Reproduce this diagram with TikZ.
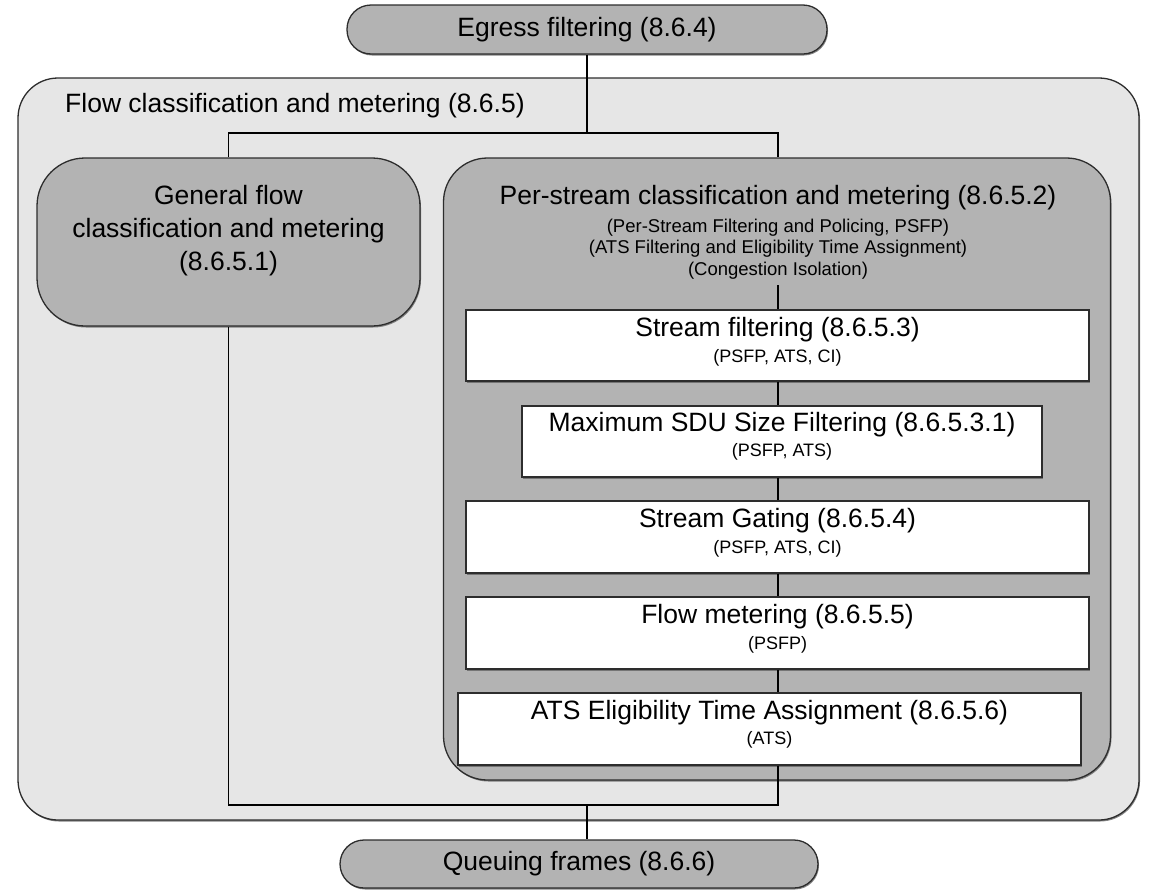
\documentclass[tikz,border=0pt]{standalone}
\usepackage{fontspec}
\setmainfont{Liberation Sans}
\usetikzlibrary{shadows}
\definecolor{outerfill}{RGB}{230,230,230}
\definecolor{boxgray}{RGB}{179,179,179}
\definecolor{edgecol}{RGB}{45,45,45}
\begin{document}
\begin{tikzpicture}[x=1pt,y=-1pt,
  boxshadow/.style={drop shadow={shadow xshift=1pt,shadow yshift=-1.5pt,fill=black!60,opacity=0.8}},
  boxframe/.style={draw=edgecol,line width=1.3pt,rectangle,inner sep=0pt,boxshadow},
  pill/.style={boxframe,fill=boxgray,rounded corners=24pt,minimum height=49pt},
  whitebox/.style={boxframe,fill=white,minimum height=72pt},
  lbig/.style={font=\fontsize{26.5}{33}\selectfont,inner sep=0pt,align=center,text=black},
  lsmall/.style={font=\fontsize{18.5}{21.5}\selectfont,inner sep=0pt,align=center,text=black},
  lsub/.style={font=\fontsize{18}{21}\selectfont,inner sep=0pt,align=center,text=black},
  link/.style={draw=black,line width=1.2pt}]
\useasboundingbox (0,0) rectangle (1158,892);

% outer container
\node[boxframe,fill=outerfill,rounded corners=40pt,minimum width=1121pt,minimum height=742pt] (outer) at (578.5,449) {};
\node[lbig,anchor=west] (outertitle) at (65,105.5) {Flow classification and metering (8.6.5)};

% top and bottom pills
\node[pill,lbig,minimum width=480pt] (egress) at (587,29.5) {Egress filtering (8.6.4)};
\node[pill,lbig,minimum width=478pt,minimum height=48pt] (queue) at (579,864) {Queuing frames (8.6.6)};

% general box
\node[boxframe,fill=boxgray,rounded corners=48pt,minimum width=383pt,minimum height=168pt] (general) at (228.5,242) {};
\node[lbig] (gentext) at (228.5,230.5) {General flow\\classification and metering\\(8.6.5.1)};

% per-stream box
\node[boxframe,fill=boxgray,rounded corners=44pt,minimum width=667pt,minimum height=622pt] (perstream) at (777,469) {};
\node[lbig] (pstitle) at (778,198) {Per-stream classification and metering (8.6.5.2)};
\node[lsmall] (pssub) at (778,249) {(Per-Stream Filtering and Policing, PSFP)\\(ATS Filtering and Eligibility Time Assignment)\\(Congestion Isolation)};
\coordinate (psjoin) at (778,285);

% inner white boxes
\node[whitebox,minimum width=623pt,minimum height=71pt] (sf) at (777.5,345.5) {};
\node[lbig] (sft) at ([yshift=-20.5pt]sf.north) {Stream filtering (8.6.5.3)};
\node[lsub] (sfs) at ([yshift=-48.5pt]sf.north) {(PSFP, ATS, CI)};

\node[whitebox,minimum width=520pt,minimum height=71pt] (sdu) at (782,441.5) {};
\node[lbig] (sdut) at ([yshift=-19pt]sdu.north) {Maximum SDU Size Filtering (8.6.5.3.1)};
\node[lsub] (sdus) at ([yshift=-46.5pt]sdu.north) {(PSFP, ATS)};

\node[whitebox,minimum width=623pt] (gating) at (777.5,537) {};
\node[lbig] (gatingt) at ([yshift=-20pt]gating.north) {Stream Gating (8.6.5.4)};
\node[lsub] (gatings) at ([yshift=-48pt]gating.north) {(PSFP, ATS, CI)};

\node[whitebox,minimum width=623pt] (flow) at (777.5,633) {};
\node[lbig] (flowt) at ([yshift=-20.5pt]flow.north) {Flow metering (8.6.5.5)};
\node[lsub] (flows) at ([yshift=-48pt]flow.north) {(PSFP)};

\node[whitebox,minimum width=623pt] (ats) at (769.5,729) {};
\node[lbig] (atst) at ([yshift=-20pt]ats.north) {ATS Eligibility Time Assignment (8.6.5.6)};
\node[lsub] (atss) at ([yshift=-47.5pt]ats.north) {(ATS)};

% connectors
\coordinate (hbar) at (0,133);
\coordinate (hbot) at (0,805);
\draw[link] (egress.south) -- (egress.south |- hbar);
\draw[link] (general.north) -- (general.north |- hbar) -- (psjoin |- hbar) -- (psjoin |- perstream.north);
\draw[link] (psjoin) -- (psjoin |- sf.north);
\draw[link] (psjoin |- sf.south) -- (psjoin |- sdu.north);
\draw[link] (psjoin |- sdu.south) -- (psjoin |- gating.north);
\draw[link] (psjoin |- gating.south) -- (psjoin |- flow.north);
\draw[link] (psjoin |- flow.south) -- (psjoin |- ats.north);
\draw[link] (psjoin |- ats.south) -- (psjoin |- hbot) -- (general.south |- hbot) -- (general.south);
\draw[link] (egress.south |- hbot) -- (egress.south |- queue.north);
\end{tikzpicture}
\end{document}
